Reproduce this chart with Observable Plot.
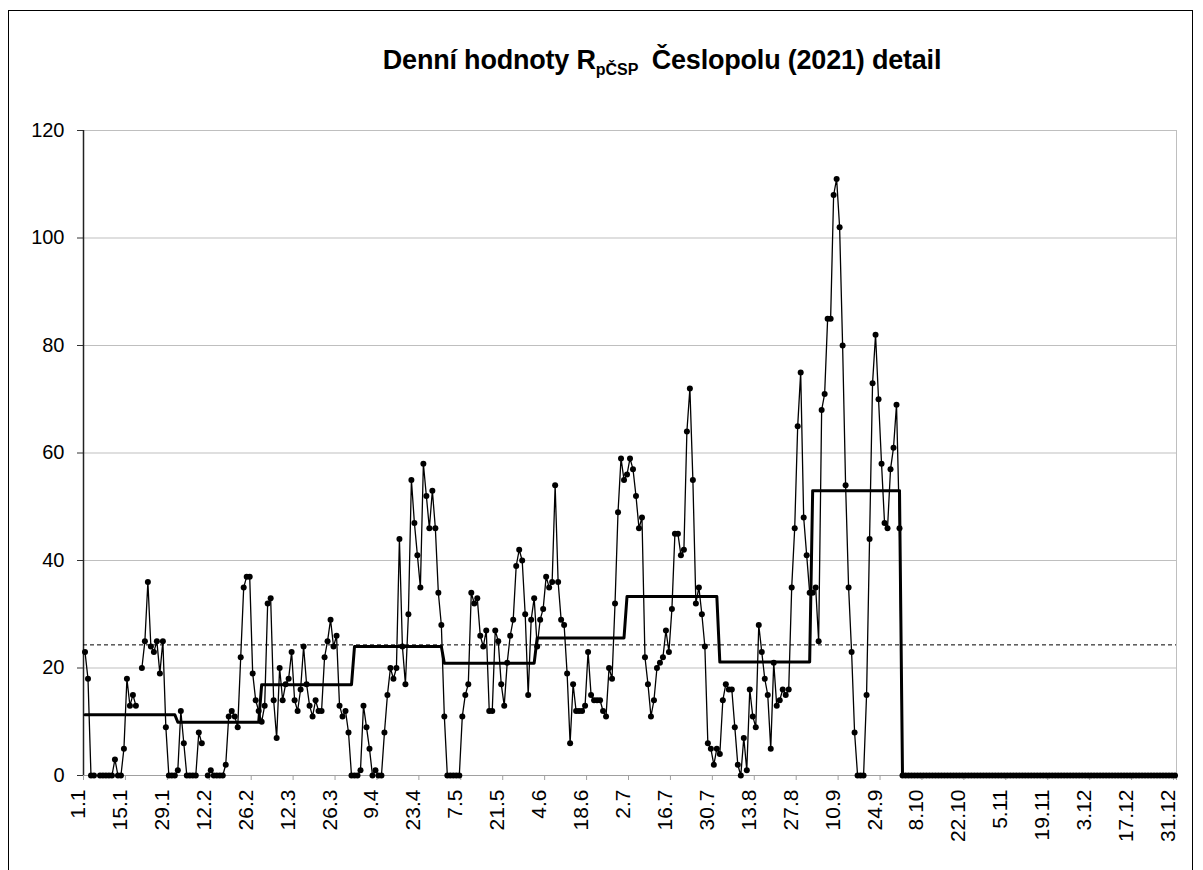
<!DOCTYPE html>
<html>
<head>
<meta charset="utf-8">
<script src="https://cdn.jsdelivr.net/npm/d3@7"></script>
<script src="https://cdn.jsdelivr.net/npm/@observablehq/plot@0.6"></script>
<style>
  html, body { margin: 0; padding: 0; background: #fff; overflow: hidden; }
  #wrap { position: relative; width: 1203px; height: 870px; overflow: hidden;
          font-family: "Liberation Sans", Arial, sans-serif; color: #000; }
  #title { height: 100px; box-sizing: border-box; padding-top: 45px; padding-left: 121px;
           width: 1203px; text-align: center; font-weight: bold; font-size: 27px;
           line-height: 30px; white-space: nowrap; letter-spacing: -0.2px; }
  #title sub { font-size: 16px; vertical-align: -6px; line-height: 0; margin-right: 6px; letter-spacing: 0; }
  #frame { position: absolute; left: 8px; top: 10px; width: 1185px; height: 900px;
           border: 1px solid #000; box-sizing: border-box; z-index: 2; pointer-events: none; }
</style>
</head>
<body>
<div id="wrap">
  <div id="frame"></div>
  <div id="title">Denní hodnoty R<sub>pČSP</sub> Česlopolu (2021) detail</div>
  <div id="chart"></div>
</div>
<script>
// Daily values (null = no observation)
const jan = [23,18,0,0,null,0,0,0,0,0,3,0,0,5,18,13,15,13,null,20,25,36,24,23,25,19,25,9,0,0,0];
const feb = [1,12,6,0,0,0,0,8,6,null,0,1,0,0,0,0,2,11,12,11,9,22,35,37,37,19,14,12];
const mar = [10,13,32,33,14,7,20,14,17,18,23,14,12,16,24,17,13,11,14,12,12,22,25,29,24,26,13,11,12,8,0];
const apr = [0,0,1,13,9,5,0,1,0,0,8,15,20,18,20,44,24,17,30,55,47,41,35,58,52,46,53,46,34,28];
const may = [11,0,0,0,0,0,11,15,17,34,32,33,26,24,27,12,12,27,25,17,13,21,26,29,39,42,40,30,15,29,33];
const jun = [24,29,31,37,35,36,54,36,29,28,19,6,17,12,12,12,13,23,15,14,14,14,12,11,20,18,32,49,59,55];
const jul = [56,59,57,52,46,48,22,17,11,14,20,21,22,27,23,31,45,45,41,42,64,72,55,32,35,30,24,6,5,2,5];
const aug = [4,14,17,16,16,9,2,0,7,1,16,11,9,28,23,18,15,5,21,13,14,16,15,16,35,46,65,75,48,41,34];
const sep = [34,35,25,68,71,85,85,108,111,102,80,54,35,23,8,0,0,0,15,44,73,82,70,58,47,46,57,61,69,46];
const oct = [0,0,0,0,0,0,0,0,0,0,0,0,0,0,0,0,0,0,0,0,0,0,0,0,0,0,0,0,0,0,0];
const nov = [0,0,0,0,0,0,0,0,0,0,0,0,0,0,0,0,0,0,0,0,0,0,0,0,0,0,0,0,0,0];
const dec = [0,0,0,0,0,0,0,0,0,0,0,0,0,0,0,0,0,0,0,0,0,0,0,0,0,0,0,0,0,0,0];

// Monthly means (step line) and yearly mean (dashed line)
const monthlyMean = [11.3, 9.9, 16.9, 24.0, 20.9, 25.6, 33.3, 21.1, 53.0, 0, 0, 0];
const yearMean = 24.3;

// Axis ticks
const yTicks = [0, 20, 40, 60, 80, 100, 120];
const tickLabels = ["1.1","15.1","29.1","12.2","26.2","12.3","26.3","9.4","23.4","7.5","21.5","4.6","18.6",
  "2.7","16.7","30.7","13.8","27.8","10.9","24.9","8.10","22.10","5.11","19.11","3.12","17.12","31.12"];

const monthsData = [jan, feb, mar, apr, may, jun, jul, aug, sep, oct, nov, dec];
const daily = monthsData.flat().map((v, i) => ({day: i + 1, value: v}));
const monthly = [];
monthsData.forEach((arr, m) => arr.forEach(() => monthly.push({day: monthly.length + 1, value: monthlyMean[m]})));

const labelDays = tickLabels.map(s => {
  const [d, m] = s.split(".").map(Number);
  return Math.round((Date.UTC(2021, m - 1, d) - Date.UTC(2021, 0, 1)) / 864e5) + 1;
});
const nDays = daily.length;
const tickBounds = labelDays.map(d => d - 0.5).concat([nDays + 0.5]);

const chart = Plot.plot({
  width: 1203, height: 770,
  marginTop: 30, marginBottom: 95, marginLeft: 83, marginRight: 27,
  style: {fontFamily: '"Liberation Sans", Arial, sans-serif', fontSize: "20px", color: "#000", background: "transparent", overflow: "visible"},
  x: {type: "linear", domain: [0.5, nDays + 0.5]},
  y: {domain: [0, 120]},
  marks: [
    Plot.ruleY(yTicks.filter(v => v > 0), {stroke: "#bfbfbf", strokeWidth: 1}),
    Plot.ruleX([nDays + 0.5], {y1: 0, y2: 120, stroke: "#bfbfbf"}),
    Plot.ruleY([0], {stroke: "#a0a0a0"}),
    Plot.axisX({ticks: tickBounds, tickSize: 5, tickFormat: () => "", stroke: "#a0a0a0", label: null}),
    Plot.text(labelDays, {x: d => d, frameAnchor: "bottom", rotate: -90, textAnchor: "end", dy: 14,
      text: (d, i) => tickLabels[i], fontSize: 21, fill: "#000"}),
    Plot.axisY({ticks: yTicks, tickSize: 6, tickPadding: 13, label: null, fontSize: 20, stroke: "#333", fill: "#000"}),
    Plot.ruleX([0.5], {y1: 0, y2: 120, stroke: "#222", strokeWidth: 1.5}),
    Plot.ruleY([yearMean], {stroke: "#000", strokeDasharray: "4,3", strokeWidth: 1}),
    Plot.line(monthly, {x: "day", y: "value", stroke: "#000", strokeWidth: 3}),
    Plot.line(daily, {x: "day", y: "value", stroke: "#000", strokeWidth: 1.3}),
    Plot.dot(daily, {x: "day", y: "value", r: 3, fill: "#000", stroke: "none"})
  ]
});
document.getElementById("chart").appendChild(chart);
</script>
</body>
</html>
